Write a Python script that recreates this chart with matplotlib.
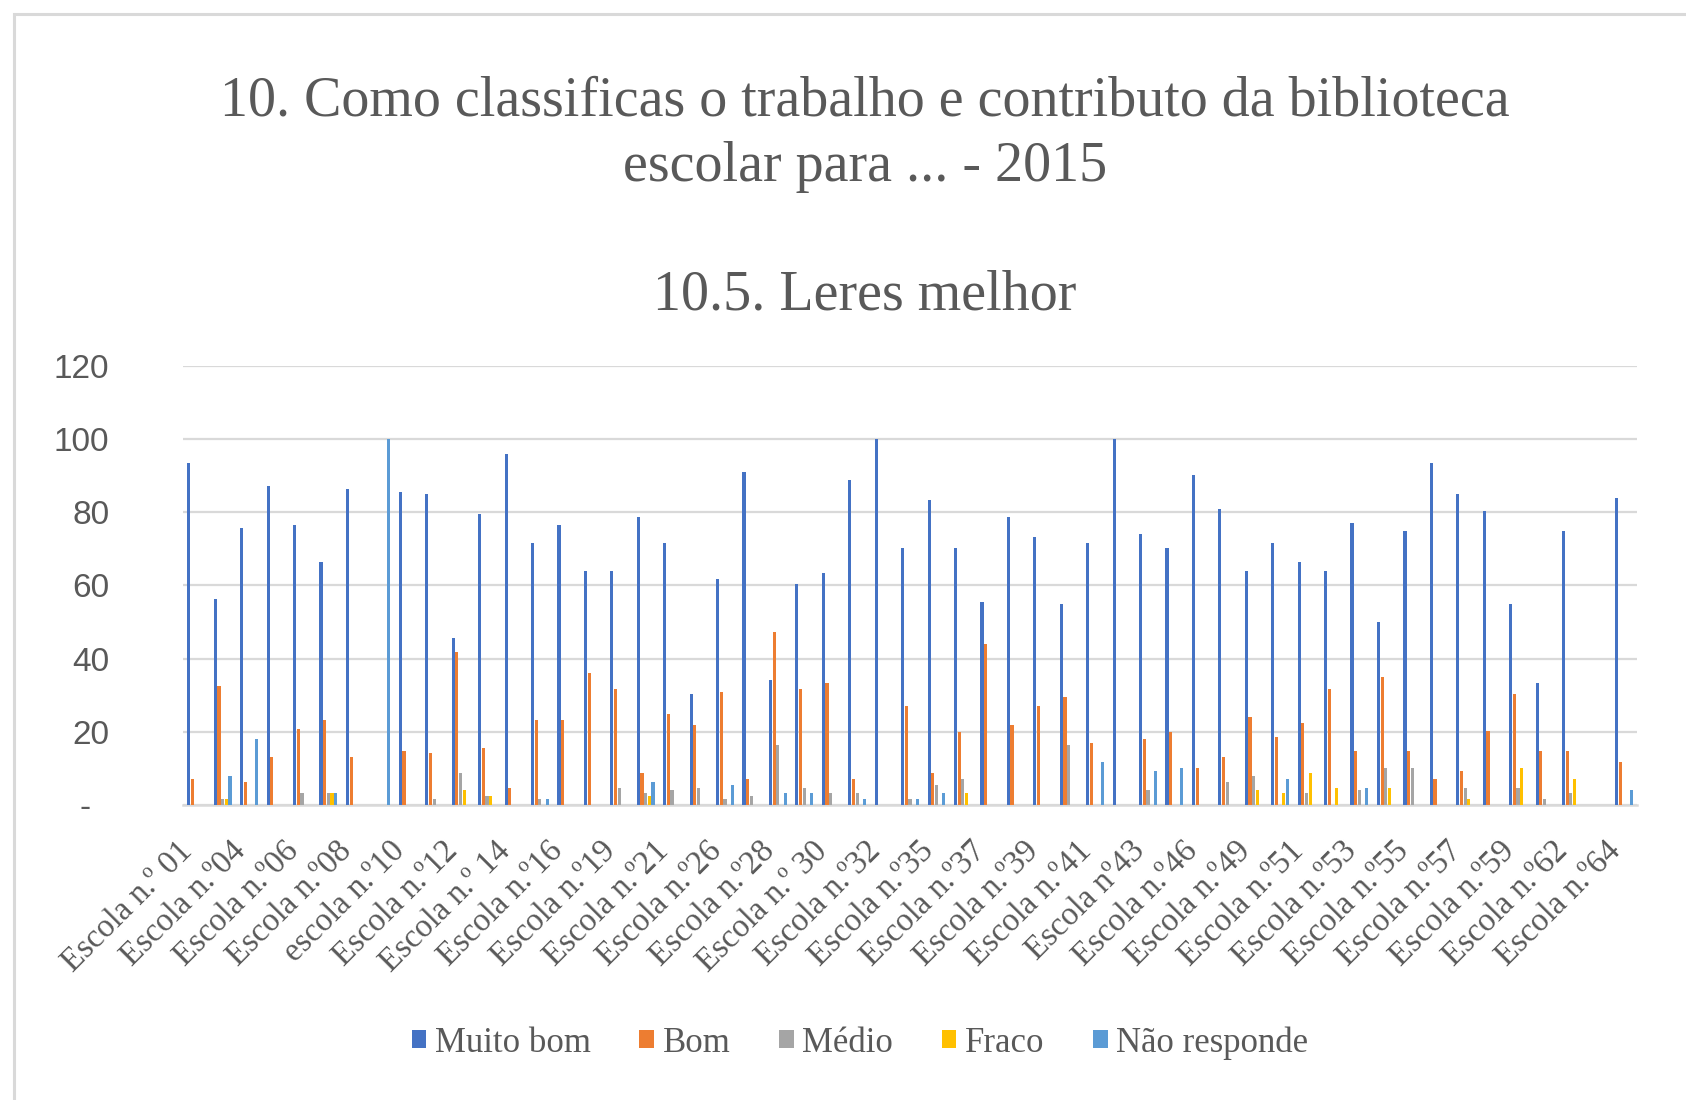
import matplotlib
matplotlib.use("Agg")
from matplotlib import pyplot as plt
from matplotlib import transforms
from matplotlib.patches import Rectangle
import numpy as np

# categories (only every other one gets a label on the axis, like the original chart)
escolas = ["Escola n.º 01", "Escola n.º02", "Escola n.º04", "Escola n.º05", "Escola n.º06",
           "Escola n.º07", "Escola n.º08", "Escola n.º09", "escola n.º10", "Escola n.º11",
           "Escola n.º12", "Escola n.º13", "Escola n.º 14", "Escola n.º15", "Escola n.º16",
           "Escola n.º17", "Escola n.º19", "Escola n.º20", "Escola n.º21", "Escola n.º22",
           "Escola n.º26", "Escola n.º27", "Escola n.º28", "Escola n.º29", "Escola n.º 30",
           "Escola n.º31", "Escola n.º32", "Escola n.º33", "Escola n.º35", "Escola n.º36",
           "Escola n.º37", "Escola n.º38", "Escola n.º39", "Escola n.º40", "Escola n.º41",
           "Escola n.º42", "Escola nº43", "Escola n.º44", "Escola n.º46", "Escola n.º47",
           "Escola n.º49", "Escola n.º50", "Escola n.º51", "Escola n.º52", "Escola n.º53",
           "Escola n.º54", "Escola n.º55", "Escola n.º56", "Escola n.º57", "Escola n.º58",
           "Escola n.º59", "Escola n.º60", "Escola n.º62", "Escola n.º63", "Escola n.º64"]

muito_bom = [93.4, 56.3, 75.6, 87.2, 76.4, 66.3, 86.4, 0, 85.6, 85.0,
             45.5, 79.5, 95.8, 71.7, 76.4, 64.0, 64.0, 78.6, 71.7, 30.2,
             61.7, 90.9, 34.2, 60.3, 63.3, 88.7, 100, 70.2, 83.3, 70.2,
             55.6, 78.6, 73.3, 54.8, 71.7, 100, 74.0, 70.2, 90.3, 81.0,
             64.0, 71.7, 66.3, 64.0, 77.1, 50.1, 74.9, 93.4, 84.9, 80.2,
             54.8, 33.2, 74.9, 0, 84.0]
bom = [7.1, 32.6, 6.4, 13.2, 20.9, 23.2, 13.2, 0, 14.8, 14.1,
       41.7, 15.5, 4.7, 23.2, 23.2, 36.2, 31.8, 8.7, 24.9, 21.9,
       30.9, 7.1, 47.2, 31.8, 33.2, 7.1, 0, 27.1, 8.7, 20.0,
       44.0, 21.9, 27.1, 29.4, 17.0, 0, 17.9, 20.0, 10.1, 13.2,
       24.0, 18.7, 22.5, 31.8, 14.8, 34.9, 14.8, 7.1, 9.4, 20.2,
       30.2, 14.8, 14.8, 0, 11.7]
medio = [0, 1.6, 0, 0, 3.2, 3.2, 0, 0, 0, 1.6,
         8.7, 2.5, 0, 1.6, 0, 0, 4.7, 3.2, 4.1, 4.7,
         1.6, 2.5, 16.4, 4.7, 3.2, 3.2, 0, 1.6, 5.5, 7.1,
         0, 0, 0, 16.4, 0, 0, 4.1, 0, 0, 6.2,
         7.9, 0, 3.2, 0, 4.1, 10.1, 10.1, 0, 4.7, 0,
         4.7, 1.6, 3.2, 0, 0]
fraco = [0, 1.6, 0, 0, 0, 3.2, 0, 0, 0, 0,
         4.1, 2.5, 0, 0, 0, 0, 0, 2.5, 0, 0,
         0, 0, 0, 0, 0, 0, 0, 0, 0, 3.2,
         0, 0, 0, 0, 0, 0, 0, 0, 0, 0,
         4.1, 3.2, 8.7, 4.7, 0, 4.7, 0, 0, 1.6, 0,
         10.1, 0, 7.1, 0, 0]
nao_responde = [0, 7.9, 17.9, 0, 0, 3.2, 0, 100, 0, 0,
                0, 0, 0, 1.6, 0, 0, 0, 6.4, 0, 0,
                5.5, 0, 3.2, 3.2, 0, 1.6, 0, 1.6, 3.2, 0,
                0, 0, 0, 0, 11.7, 0, 9.4, 10.1, 0, 0,
                0, 7.1, 0, 0, 4.7, 0, 0, 0, 0, 0,
                0, 0, 0, 0, 4.1]

series = ["Muito bom", "Bom", "Médio", "Fraco", "Não responde"]
cores = ["#4472C4", "#ED7D31", "#A5A5A5", "#FFC000", "#5B9BD5"]
cinza = "#595959"

W, H = 1686, 1100
fig = plt.figure(figsize=(W / 100, H / 100), dpi=100)

# moldura do grafico (cortada a direita e em baixo)
fig.patches.append(Rectangle((14 / W, -0.1), 1.2, 1 - 14 / H + 0.1, transform=fig.transFigure,
                             fill=False, edgecolor="#D9D9D9", linewidth=2.2))

ax = fig.add_axes([183 / W, 1 - 805 / H, (1637 - 183) / W, (805 - 365.8) / H])

x = np.arange(len(escolas))
passo = 0.139
dados = [muito_bom, bom, medio, fraco, nao_responde]
for i in range(len(dados)):
    ax.bar(x + (i - 2) * passo, dados[i], width=0.12, color=cores[i], label=series[i], zorder=3)

ax.set_xlim(-0.5, len(escolas) - 0.5)
ax.set_ylim(0, 120)
ax.set_yticks([0, 20, 40, 60, 80, 100, 120])
ax.set_yticklabels(["-  ", "20", "40", "60", "80", "100", "120"],
                   fontfamily="Liberation Sans", fontsize=24, color=cinza)
ax.tick_params(axis="y", length=0, pad=53)
ax.grid(axis="y", color="#D9D9D9", linewidth=1.6, zorder=0)
for s in ["top", "right", "left"]:
    ax.spines[s].set_visible(False)
ax.spines["bottom"].set_color("#D9D9D9")
ax.spines["bottom"].set_linewidth(1.8)

ax.set_xticks(x[::2])
ax.set_xticklabels(escolas[::2], rotation=45, ha="right", va="center",
                   rotation_mode="anchor", fontfamily="Liberation Serif",
                   fontsize=23.5, color=cinza)
ax.tick_params(axis="x", length=0, pad=30)
desloc = transforms.ScaledTranslation(-8 / 100, 0, fig.dpi_scale_trans)
for lab in ax.get_xticklabels():
    lab.set_transform(lab.get_transform() + desloc)

fig.text(865 / W, 1 - 102 / H, "10. Como classificas o trabalho e contributo da biblioteca",
         ha="center", va="center", fontfamily="Liberation Serif", fontsize=40.3, color=cinza)
fig.text(865 / W, 1 - 167 / H, "escolar para ... - 2015",
         ha="center", va="center", fontfamily="Liberation Serif", fontsize=40.3, color=cinza)
fig.text(865 / W, 1 - 296 / H, "10.5. Leres melhor",
         ha="center", va="center", fontfamily="Liberation Serif", fontsize=40.3, color=cinza)

leg = fig.legend(loc="center", bbox_to_anchor=(860 / W, 1 - 1043 / H), ncol=5, frameon=False,
                 prop={"family": "Liberation Serif", "size": 25},
                 handlelength=0.42, handleheight=0.42, handletextpad=0.25, columnspacing=1.4)
for t in leg.get_texts():
    t.set_color(cinza)

plt.savefig("out.png", dpi=100, facecolor="white")
